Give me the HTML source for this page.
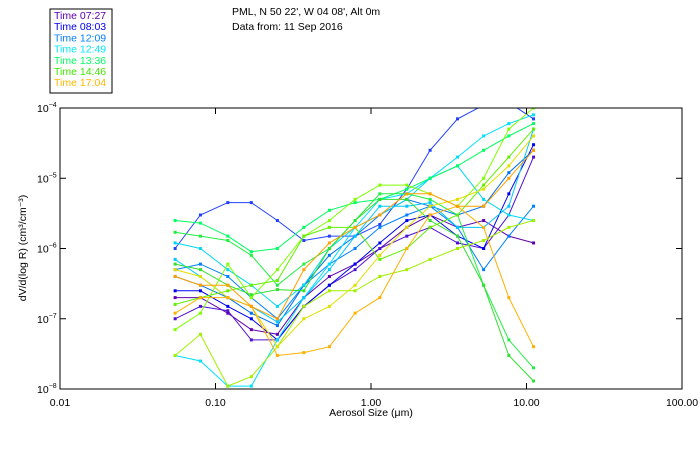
<!DOCTYPE html>
<html><head><meta charset="utf-8"><style>
body{margin:0;background:#fff;}
svg{font-family:"Liberation Sans",sans-serif;}
</style></head><body>
<svg id="chart" width="700" height="450" viewBox="0 0 700 450">
<defs><clipPath id="pc"><rect x="60" y="108" width="622" height="281"/></clipPath></defs>
<rect x="50" y="9" width="62" height="84" fill="#fff" stroke="#000"/>
<g id="legend" font-size="10.5"></g>
<text x="232" y="15" font-size="10.5">PML, N 50 22', W 04 08', Alt 0m</text>
<text x="232" y="30" font-size="10.5">Data from: 11 Sep 2016</text>
<g id="series" clip-path="url(#pc)"></g>
<rect x="60" y="108" width="622" height="281" fill="none" stroke="#000"/>
<g id="axes" font-size="10.5"></g>
<text x="371" y="416" font-size="10.5" text-anchor="middle">Aerosol Size (μm)</text>
<text transform="translate(26,248) rotate(-90)" font-size="10.5" text-anchor="middle">dV/d(log R) (cm³/cm⁻³)</text>
</svg>
<script>
const sizes=[0.055,0.08,0.12,0.17,0.25,0.37,0.54,0.79,1.14,1.7,2.4,3.6,5.3,7.7,11.1];
const xTicks=[0.01,0.1,1,10,100];
const xTickLabels=["0.01","0.10","1.00","10.00","100.00"];
const yTicks=[-4,-5,-6,-7,-8];
const legendLabels=["Time 07:27","Time 08:03","Time 12:09","Time 12:49","Time 13:36","Time 14:46","Time 17:04"];
const legendColors=["#6000b0","#0000f0","#0080ff","#00e8ff","#00ff60","#40e800","#ffb800"];
const seriesColors=["#6000b0","#5010d0","#0000f0","#2040ff","#0080ff","#0070f0","#00e0ff","#00d8f0","#00c8ff","#00ff60","#20f040","#30e030","#80ff00","#a0f000","#60f000","#e0e000","#ffb000","#ffa000"];
const s1=[2e-7,2e-7,1.2e-7,7e-8,6e-8,2e-7,4e-7,6e-7,1e-6,2e-6,3e-6,2e-6,2.5e-6,1.5e-6,1.2e-6];
const s2=[1e-7,1.5e-7,1.3e-7,5e-8,5e-8,1.5e-7,3e-7,5e-7,1e-6,1.5e-6,2e-6,1.2e-6,1e-6,3e-6,2e-5];
const s3=[2.5e-7,2.5e-7,1.5e-7,1e-7,5e-8,1.5e-7,3e-7,6e-7,1.2e-6,2.5e-6,3e-6,1.5e-6,1e-6,6e-6,3e-5];
const s4=[1e-6,3e-6,4.5e-6,4.5e-6,2.5e-6,1.3e-6,1.5e-6,1.5e-6,2.2e-6,7e-6,2.5e-5,7e-5,1.1e-4,1.2e-4,7e-5];
const s5=[5e-7,6e-7,4e-7,2e-7,1e-7,3e-7,6e-7,1e-6,2e-6,3e-6,4e-6,2e-6,5e-7,1.5e-6,4e-6];
const s6=[4e-7,3e-7,2e-7,1.2e-7,8e-8,3e-7,8e-7,1.5e-6,3e-6,5e-6,4e-6,3e-6,4e-6,1.2e-5,2.5e-5];
const s7=[3e-8,2.5e-8,1.1e-8,1.1e-8,5e-8,2e-7,6e-7,2e-6,5e-6,6e-6,1e-5,2e-5,4e-5,6e-5,8e-5];
const s8=[1.2e-6,1e-6,5e-7,3e-7,1.5e-7,3e-7,1e-6,2e-6,3e-6,5e-6,1e-5,1.5e-5,5e-6,3e-6,2.5e-6];
const s9=[7e-7,4e-7,2e-7,1.5e-7,9e-8,2e-7,5e-7,1.5e-6,4e-6,4e-6,4.5e-6,2e-6,2e-6,4e-6,5e-5];
const s10=[2.5e-6,2.3e-6,1.5e-6,9e-7,1e-6,2e-6,3.5e-6,4.5e-6,5e-6,7e-6,1e-5,1.5e-5,2.5e-5,4e-5,6e-5];
const s11=[1.7e-6,1.5e-6,1.3e-6,8e-7,3e-7,6e-7,1e-6,2.5e-6,6e-6,6e-6,5e-6,3e-6,3e-7,5e-8,2e-8];
const s12=[6e-7,5e-7,3e-7,2.2e-7,2.6e-7,2.5e-7,1e-6,2.5e-6,5e-6,5e-6,2.5e-6,1.5e-6,3e-7,3e-8,1.3e-8];
const s13=[7e-8,1.2e-7,6e-7,2e-7,5e-7,1.5e-6,2.5e-6,5e-6,8e-6,8e-6,6e-6,4e-6,1e-5,5e-5,1e-4];
const s14=[3e-8,6e-8,1.1e-8,1.5e-8,4e-8,1.5e-7,2.5e-7,2.5e-7,4e-7,5e-7,7e-7,1e-6,1.3e-6,2e-6,2.5e-6];
const s15=[1.6e-7,2e-7,2.5e-7,3e-7,3.5e-7,1.5e-6,2e-6,2e-6,7e-7,1e-6,2e-6,3e-6,8e-6,2e-5,5e-5];
const s16=[5e-7,4e-7,2e-7,1.5e-7,4e-8,1e-7,1.5e-7,3e-7,8e-7,2e-6,4e-6,5e-6,7e-6,1.5e-5,4e-5];
const s17=[1.2e-7,2e-7,2e-7,1.5e-7,3e-8,3.3e-8,4e-8,1.2e-7,2e-7,1e-6,3e-6,4e-6,2e-6,2e-7,4e-8];
const s18=[4e-7,3e-7,3e-7,1.5e-7,1e-7,5e-7,1.2e-6,2e-6,3e-6,6e-6,6e-6,4e-6,4e-6,1e-5,2.5e-5];
const allSeries=[s1,s2,s3,s4,s5,s6,s7,s8,s9,s10,s11,s12,s13,s14,s15,s16,s17,s18];

const NS="http://www.w3.org/2000/svg";
const X0=60,X1=682,Y0=389,Y1=108;
function xs(v){return X0+(Math.log10(v)+2)/4*(X1-X0);}
function ys(v){return Y0-(Math.log10(v)+8)/4*(Y0-Y1);}
function mk(tag,attrs,parent){const e=document.createElementNS(NS,tag);for(const k in attrs)e.setAttribute(k,attrs[k]);parent.appendChild(e);return e;}

const lg=document.getElementById('legend');
legendLabels.forEach((t,i)=>{
  const e=mk('text',{x:54,y:19+i*11.2,fill:legendColors[i]},lg);
  
  
  e.textContent=t;
});

const ax=document.getElementById('axes');
xTicks.forEach((v,i)=>{
  const x=xs(v);
  const t1=mk('line',{x1:x,x2:x,y1:Y0,y2:Y0-6,stroke:'#000'},ax);
  
  
  const t2=mk('line',{x1:x,x2:x,y1:Y1,y2:Y1+6,stroke:'#000'},ax);
  
  
  const l=mk('text',{x:x,y:406,'text-anchor':'middle'},ax);
  
  
  l.textContent=xTickLabels[i];
});
yTicks.forEach(p=>{
  const y=ys(Math.pow(10,p));
  const t1=mk('line',{x1:X0,x2:X0+6,y1:y,y2:y,stroke:'#000'},ax);
  
  
  const t2=mk('line',{x1:X1,x2:X1-6,y1:y,y2:y,stroke:'#000'},ax);
  
  
  const l=mk('text',{x:37,y:y+4},ax);
  
  
  l.textContent='10';
  const s=mk('tspan',{dy:-5,'font-size':7},l);
  s.textContent=String(p).replace('-','−');
});

const sg=document.getElementById('series');
allSeries.forEach((vals,i)=>{
  const c=seriesColors[i];
  const g=mk('g',{},sg);
  
  
  const pts=vals.map((v,j)=>xs(sizes[j]).toFixed(1)+','+ys(v).toFixed(1)).join(' ');
  const pl=mk('polyline',{points:pts,fill:'none',stroke:c,'stroke-width':1},g);
  
  
  vals.forEach((v,j)=>{
    const r=mk('rect',{x:xs(sizes[j])-1.5,y:ys(v)-1.5,width:3,height:3,fill:c},g);
    
    
  });
});
</script>
</body></html>
